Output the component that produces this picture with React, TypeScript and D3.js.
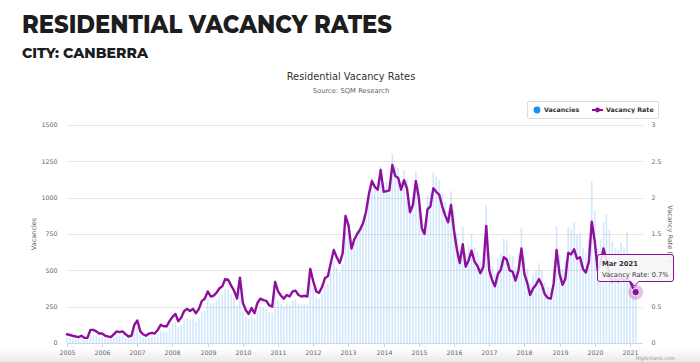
import { useEffect, useRef } from 'react'
import * as d3 from 'd3'

const W = 700
const H = 362

const startYear = 2005
const yearTicks = [2005, 2006, 2007, 2008, 2009, 2010, 2011, 2012, 2013, 2014, 2015, 2016, 2017, 2018, 2019, 2020, 2021]
const vacancyTicks = [0, 250, 500, 750, 1000, 1250, 1500]
const rateTicks = [0, 0.5, 1, 1.5, 2, 2.5, 3]

// monthly, Jan 2005 .. Mar 2021
const vacancyRate = [
  0.12, 0.11, 0.10, 0.09, 0.08, 0.10, 0.07, 0.07, 0.18, 0.18, 0.16, 0.13, // 2005
  0.13, 0.10, 0.09, 0.08, 0.12, 0.16, 0.15, 0.16, 0.12, 0.09, 0.10, 0.25, // 2006
  0.31, 0.16, 0.12, 0.10, 0.13, 0.14, 0.13, 0.18, 0.25, 0.23, 0.23, 0.30, // 2007
  0.36, 0.40, 0.30, 0.35, 0.44, 0.47, 0.44, 0.47, 0.41, 0.47, 0.58, 0.61, // 2008
  0.71, 0.64, 0.65, 0.69, 0.75, 0.78, 0.88, 0.87, 0.79, 0.72, 0.61, 0.90, // 2009
  0.55, 0.45, 0.40, 0.48, 0.41, 0.55, 0.61, 0.59, 0.58, 0.52, 0.50, 0.84, // 2010
  0.71, 0.65, 0.61, 0.66, 0.64, 0.71, 0.72, 0.66, 0.64, 0.65, 0.64, 1.02, // 2011
  0.85, 0.71, 0.69, 0.77, 0.89, 0.92, 1.10, 1.28, 1.18, 1.10, 1.23, 1.75, // 2012
  1.62, 1.30, 1.42, 1.50, 1.56, 1.65, 1.80, 2.05, 2.23, 2.15, 2.11, 2.38, // 2013
  2.08, 2.09, 2.10, 2.45, 2.30, 2.27, 2.11, 2.24, 2.12, 1.80, 1.90, 2.23, // 2014
  2.00, 1.58, 1.50, 1.84, 1.88, 2.13, 2.08, 2.04, 1.88, 1.76, 1.66, 1.90, // 2015
  1.55, 1.28, 1.10, 1.36, 1.05, 1.14, 1.27, 1.12, 1.06, 0.96, 1.05, 1.61, // 2016
  1.00, 0.86, 0.78, 0.95, 1.01, 1.18, 1.15, 1.00, 0.98, 0.86, 1.00, 1.30, // 2017
  0.95, 0.82, 0.66, 0.75, 0.80, 0.88, 0.80, 0.67, 0.62, 0.61, 0.82, 1.28, // 2018
  0.95, 0.80, 0.88, 1.24, 1.22, 1.29, 1.16, 1.18, 1.02, 0.97, 1.12, 1.67, // 2019
  1.40, 1.00, 1.10, 1.30, 1.15, 0.95, 0.85, 0.88, 0.85, 0.90, 0.86, 0.88, // 2020
  0.85, 0.76, 0.70, // 2021
]

const vacancies = [
  36, 33, 30, 27, 24, 30, 21, 21, 54, 54, 48, 39,
  40, 31, 28, 25, 37, 50, 47, 50, 37, 28, 31, 78,
  102, 53, 40, 33, 43, 46, 43, 59, 83, 76, 76, 99,
  130, 144, 108, 126, 158, 169, 158, 169, 148, 169, 209, 220,
  302, 272, 276, 293, 319, 332, 374, 370, 336, 306, 259, 383,
  226, 185, 164, 197, 168, 226, 250, 242, 238, 213, 205, 344,
  291, 267, 250, 271, 262, 291, 295, 271, 262, 267, 262, 418,
  374, 312, 304, 339, 392, 405, 484, 563, 519, 484, 541, 770,
  826, 663, 724, 765, 796, 842, 918, 1046, 1137, 1097, 1076, 1214,
  1102, 1108, 1113, 1298, 1219, 1203, 1118, 1187, 1124, 954, 1007, 1182,
  1100, 869, 825, 1012, 1034, 1172, 1144, 1122, 1034, 968, 913, 1045,
  915, 755, 649, 802, 620, 673, 749, 661, 625, 566, 620, 950,
  610, 525, 476, 580, 616, 720, 702, 610, 598, 525, 610, 793,
  594, 513, 413, 469, 500, 550, 500, 419, 388, 381, 513, 800,
  608, 512, 563, 794, 781, 826, 742, 755, 653, 621, 717, 1110,
  910, 650, 715, 830, 890, 780, 700, 650, 640, 690, 660, 760,
  620, 580, 480,
]

const monthNames = ['Jan', 'Feb', 'Mar', 'Apr', 'May', 'Jun', 'Jul', 'Aug', 'Sep', 'Oct', 'Nov', 'Dec']

const FONT = '"DejaVu Sans", "Lucida Grande", sans-serif'
const PURPLE = '#8f0f9d'

export default function App() {
  const svgRef = useRef<SVGSVGElement>(null)

  useEffect(() => {
    if (!svgRef.current) return
    const svg = d3.select(svgRef.current)
    svg.selectAll('*').remove()

    const plot = { left: 67, right: 643, top: 125, bottom: 343 }
    const dates = vacancyRate.map((_, i) => new Date(startYear, i, 1))

    const x = d3.scaleTime()
      .domain([new Date(2005, 0, 1), new Date(2021, 4, 16)])
      .range([plot.left, plot.right])
    const yL = d3.scaleLinear().domain([0, 1500]).range([plot.bottom, plot.top])
    const yR = d3.scaleLinear().domain([0, 3]).range([plot.bottom, plot.top])

    // background + bottom shade
    svg.append('rect').attr('width', W).attr('height', H).attr('fill', '#fff')
    const defs = svg.append('defs')
    const grad = defs.append('linearGradient').attr('id', 'shade').attr('x1', 0).attr('x2', 0).attr('y1', 0).attr('y2', 1)
    grad.append('stop').attr('offset', '0%').attr('stop-color', '#fbfbfb')
    grad.append('stop').attr('offset', '100%').attr('stop-color', '#e9e9e9')
    svg.append('rect').attr('x', 0).attr('y', 351).attr('width', W).attr('height', 11).attr('fill', 'url(#shade)')

    // page headings
    svg.append('text')
      .attr('x', 22).attr('y', 33)
      .attr('font-family', 'Montserrat, Inter, Lato, sans-serif')
      .attr('font-weight', 800).attr('font-size', 25)
      .attr('fill', '#1d1d1f')
      .attr('textLength', 370).attr('lengthAdjust', 'spacingAndGlyphs')
      .text('RESIDENTIAL VACANCY RATES')
    svg.append('text')
      .attr('x', 22).attr('y', 57.5)
      .attr('font-family', 'Montserrat, Inter, Lato, sans-serif')
      .attr('font-weight', 800).attr('font-size', 14)
      .attr('fill', '#1d1d1f')
      .attr('textLength', 126).attr('lengthAdjust', 'spacingAndGlyphs')
      .text('CITY: CANBERRA')

    // chart title
    svg.append('text')
      .attr('x', 351).attr('y', 80).attr('text-anchor', 'middle')
      .attr('font-family', FONT).attr('font-size', 9.8).attr('fill', '#333')
      .text('Residential Vacancy Rates')
    svg.append('text')
      .attr('x', 351).attr('y', 93).attr('text-anchor', 'middle')
      .attr('font-family', FONT).attr('font-size', 6.8).attr('fill', '#666')
      .text('Source: SQM Research')

    // grid
    svg.append('g').selectAll('line').data(vacancyTicks).enter().append('line')
      .attr('x1', plot.left).attr('x2', plot.right)
      .attr('y1', d => Math.round(yL(d)) + 0.5).attr('y2', d => Math.round(yL(d)) + 0.5)
      .attr('stroke', '#e6e6e6').attr('stroke-width', 1)

    // bars
    svg.append('g').selectAll('rect').data(vacancies).enter().append('rect')
      .attr('x', (_, i) => x(dates[i]) - 0.8)
      .attr('width', 1.6)
      .attr('y', d => yL(d))
      .attr('height', d => plot.bottom - yL(d))
      .attr('fill', '#2d93ee').attr('fill-opacity', 0.22)

    // x axis
    svg.append('line')
      .attr('x1', plot.left).attr('x2', plot.right)
      .attr('y1', plot.bottom + 0.5).attr('y2', plot.bottom + 0.5)
      .attr('stroke', '#ccd6eb')
    const xt = svg.append('g')
    yearTicks.forEach(yr => {
      const px = Math.round(x(new Date(yr, 0, 1))) + 0.5
      xt.append('line').attr('x1', px).attr('x2', px).attr('y1', plot.bottom).attr('y2', plot.bottom + 4)
        .attr('stroke', '#ccd6eb')
      xt.append('text').attr('x', px).attr('y', 354.5).attr('text-anchor', 'middle')
        .attr('font-family', FONT).attr('font-size', 6.3).attr('fill', '#666').text(yr)
    })

    // y axes labels
    svg.append('g').selectAll('text').data(vacancyTicks).enter().append('text')
      .attr('x', 57.5).attr('y', d => yL(d) + 2.3).attr('text-anchor', 'end')
      .attr('font-family', FONT).attr('font-size', 6.3).attr('fill', '#666')
      .text(d => d)
    svg.append('g').selectAll('text').data(rateTicks).enter().append('text')
      .attr('x', 651.5).attr('y', d => yR(d) + 2.3).attr('text-anchor', 'start')
      .attr('font-family', FONT).attr('font-size', 6.3).attr('fill', '#666')
      .text(d => d)

    const midY = (plot.top + plot.bottom) / 2
    svg.append('text')
      .attr('transform', `translate(35.5,${midY}) rotate(-90)`).attr('text-anchor', 'middle')
      .attr('font-family', FONT).attr('font-size', 6.5).attr('fill', '#666')
      .text('Vacancies')
    svg.append('text')
      .attr('transform', `translate(668,${midY}) rotate(90)`).attr('text-anchor', 'middle')
      .attr('font-family', FONT).attr('font-size', 6.5).attr('fill', '#666')
      .text('Vacancy Rate (%)')

    // rate line
    const line = d3.line<number>()
      .x((_, i) => x(dates[i]))
      .y(d => yR(d))
    svg.append('path').datum(vacancyRate)
      .attr('d', line)
      .attr('fill', 'none').attr('stroke', PURPLE).attr('stroke-width', 2.4)
      .attr('stroke-linejoin', 'round').attr('stroke-linecap', 'round')

    // legend
    const lg = svg.append('g')
    lg.append('rect').attr('x', 527.5).attr('y', 101.5).attr('width', 131).attr('height', 17).attr('rx', 1.5)
      .attr('fill', '#fff').attr('stroke', '#dcdcdc')
    lg.append('circle').attr('cx', 537).attr('cy', 110).attr('r', 3.4).attr('fill', '#1e8ff0')
    lg.append('text').attr('x', 544).attr('y', 112.3)
      .attr('font-family', FONT).attr('font-size', 6.3).attr('font-weight', 'bold').attr('fill', '#333')
      .text('Vacancies')
    lg.append('line').attr('x1', 592).attr('x2', 603).attr('y1', 110).attr('y2', 110)
      .attr('stroke', PURPLE).attr('stroke-width', 2)
    lg.append('circle').attr('cx', 597.5).attr('cy', 110).attr('r', 2.4).attr('fill', PURPLE)
    lg.append('text').attr('x', 606).attr('y', 112.3)
      .attr('font-family', FONT).attr('font-size', 6.3).attr('font-weight', 'bold').attr('fill', '#333')
      .text('Vacancy Rate')

    // hovered point + tooltip
    const last = vacancyRate.length - 1
    const px = x(dates[last])
    const py = yR(vacancyRate[last])
    svg.append('circle').attr('cx', px).attr('cy', py).attr('r', 7.5).attr('fill', PURPLE).attr('fill-opacity', 0.25)
    svg.append('circle').attr('cx', px).attr('cy', py).attr('r', 3.8).attr('fill', PURPLE)
      .attr('stroke', '#fff').attr('stroke-width', 1)

    const bx = 597.5, by = 254.5, bw = 76, bh = 27, r = 2.5
    const tipX = px - 1, tipY = py - 6
    const ax = tipX - 4, ax2 = tipX + 4
    const p = `M${bx + r},${by} H${bx + bw - r} Q${bx + bw},${by} ${bx + bw},${by + r} V${by + bh - r} Q${bx + bw},${by + bh} ${bx + bw - r},${by + bh}`
      + ` H${ax2} L${tipX},${tipY} L${ax},${by + bh} H${bx + r} Q${bx},${by + bh} ${bx},${by + bh - r} V${by + r} Q${bx},${by} ${bx + r},${by} Z`
    svg.append('path').attr('d', p).attr('fill', 'rgba(247,247,247,0.88)').attr('stroke', PURPLE).attr('stroke-width', 1)
    const month = dates[last]
    svg.append('text').attr('x', 602).attr('y', 266)
      .attr('font-family', FONT).attr('font-size', 6.8).attr('font-weight', 'bold').attr('fill', '#333')
      .text(`${monthNames[month.getMonth()]} ${month.getFullYear()}`)
    svg.append('text').attr('x', 602).attr('y', 277)
      .attr('font-family', FONT).attr('font-size', 6.7).attr('fill', '#333')
      .text(`Vacancy Rate: ${vacancyRate[last]}%`)

    // credits
    svg.append('text').attr('x', 675).attr('y', 359.5).attr('text-anchor', 'end')
      .attr('font-family', FONT).attr('font-size', 5).attr('fill', '#999')
      .text('Highcharts.com')
  }, [])

  return (
    <div style={{ position: 'absolute', left: 0, top: 0, width: W, height: H }}>
      <svg ref={svgRef} width={W} height={H} style={{ display: 'block' }} />
    </div>
  )
}
